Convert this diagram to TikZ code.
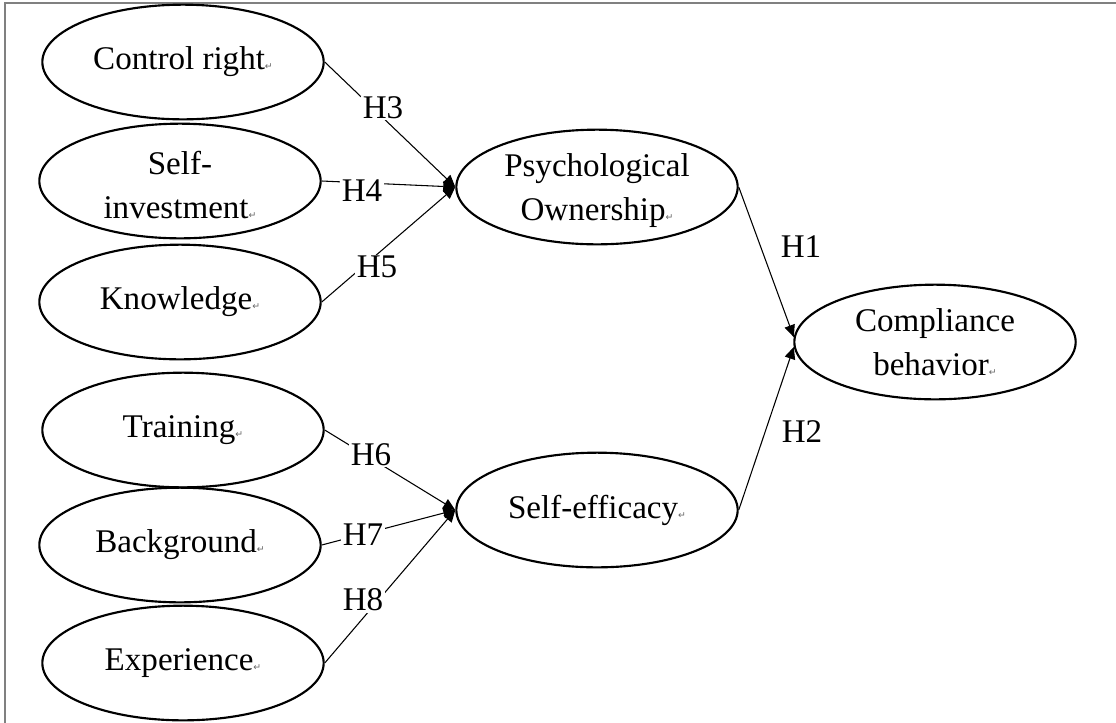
\documentclass[tikz,border=0pt]{standalone}
\usepackage{fontspec}
\setmainfont{Liberation Serif}
\newfontfamily\symfnt{DejaVu Sans}
\usetikzlibrary{shapes.geometric,arrows.meta}
\newcommand\retmark{{\symfnt\fontsize{7}{7}\selectfont\color{black!60}↵}}
\newcommand\ovtext[1]{\parbox[c][20pt][c]{146pt}{\centering #1}}
\newcommand\ovtwo[1]{\parbox[c][20pt][c]{146pt}{\centering\vspace*{6pt}#1}}
\begin{document}
\begin{tikzpicture}[x=0.75pt,y=-0.75pt,
  every node/.style={font=\fontsize{24.8}{33}\selectfont, text=black},
  oval/.style={ellipse,draw,line width=1.6pt,minimum width=211pt,minimum height=86pt,inner sep=0pt},
  conn/.style={line width=0.8pt,-{Triangle[length=9pt,width=8pt]}},
  hyp/.style={fill=white,inner sep=1pt},
  frameline/.style={draw=gray,line width=1.5pt}
]
\useasboundingbox (0,0) rectangle (1116,722);
\path[frameline] (5,730) -- (5,3) -- (1122,3);

% left column
\node[oval] (cr) at (183,62)  {\ovtext{Control right\retmark}};
\node[oval] (si) at (180,181) {\ovtwo{Self-\\investment\retmark}};
\node[oval] (kn) at (180,302) {\ovtext{Knowledge\retmark}};
\node[oval] (tr) at (183,430) {\ovtext{Training\retmark}};
\node[oval] (bg) at (180,545) {\ovtext{Background\retmark}};
\node[oval] (ex) at (183,663) {\ovtext{Experience\retmark}};

% middle column
\node[oval] (po) at (597,187) {\ovtwo{Psychological\\Ownership\retmark}};
\node[oval] (se) at (597,510) {\ovtext{Self-efficacy\retmark}};

% right
\node[oval] (cb) at (935,342) {\ovtext{Compliance\\behavior\retmark}};

% connectors
\draw[conn] (cr.east) -- (po.west);
\draw[conn] (si.east) -- (po.west);
\draw[conn] (kn.east) -- (po.west);
\draw[conn] (tr.east) -- (se.west);
\draw[conn] (bg.east) -- (se.west);
\draw[conn] (ex.east) -- (se.west);
\draw[conn] (po.east) -- (cb.178);
\draw[conn] (se.east) -- (cb.182);

% labels
\node[hyp] (h3) at (383,108) {H3};
\node[hyp] (h4) at (362,191) {H4};
\node[hyp] (h5) at (377,267) {H5};
\node[hyp] (h6) at (371,455) {H6};
\node[hyp] (h7) at (363,535) {H7};
\node[hyp] (h8) at (363,600) {H8};
\node (h1) at (801,247) {H1};
\node (h2) at (802,432) {H2};
\end{tikzpicture}
\end{document}
